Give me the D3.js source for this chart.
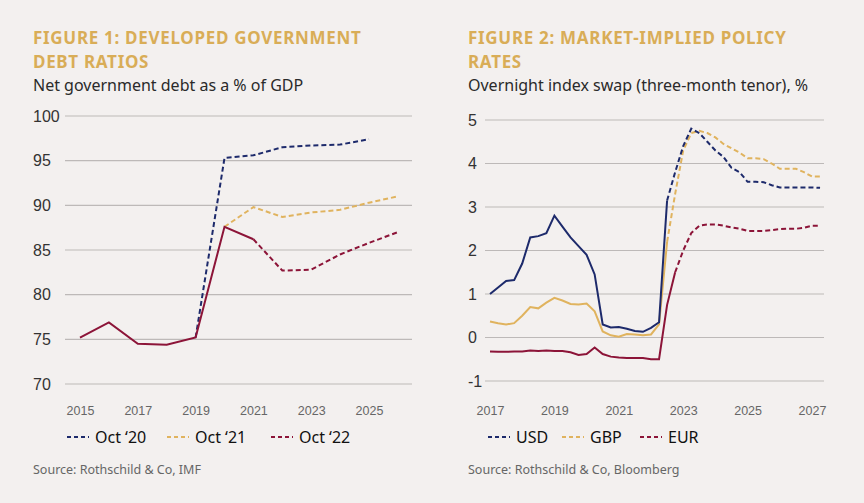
<!DOCTYPE html>
<html><head><meta charset="utf-8">
<script src="https://cdn.jsdelivr.net/npm/d3@7"></script>
<style>
body{margin:0;background:#f3f0ef;}
svg{display:block;font-family:"Source Sans Pro","Noto Sans",sans-serif;}
.title{fill:#d9ad57;font-weight:bold;font-size:17px;letter-spacing:0.7px;}
.sub{fill:#2a2a2a;font-size:16px;}
.src{fill:#666;font-size:12.5px;}
.tick text{fill:#333;font-size:16px;}
.xa .tick text{fill:#666;font-size:12.5px;}
.leg{fill:#111;font-size:16px;}
</style></head>
<body>
<svg id="vis" width="864" height="503"></svg>
<script>
// figure 1 - debt ratios
const years1 = [2015,2016,2017,2018,2019,2020,2021,2022,2023,2024,2025,2026]
const oct22 = [75.2,76.9,74.5,74.4,75.2,87.6,86.2,82.7,82.8,84.5,85.8,87.0]
const oct21 = [null,null,null,null,null,87.6,89.8,88.7,89.2,89.5,90.3,91.0]
const oct20 = [null,null,null,null,75.2,95.3,95.6,96.5,96.7,96.8,97.4,null]
const ticks1x = [2015,2017,2019,2021,2023,2025]
const ticks1y = [70,75,80,85,90,95,100]

// figure 2 - OIS, quarterly from 2017
const usd = [1.0,1.15,1.3,1.32,1.7,2.3,2.33,2.4,2.8,2.55,2.3,2.1,1.9,1.45,0.3,0.23,0.24,0.2,0.15,0.13,0.22,0.35,3.15,
    3.8,4.4,4.8,4.7,4.5,4.3,4.15,3.9,3.8,3.58,3.58,3.57,3.5,3.45,3.45,3.45,3.45,3.45,3.44]
const gbp = [0.37,0.33,0.3,0.33,0.5,0.7,0.67,0.8,0.91,0.85,0.77,0.76,0.78,0.6,0.14,0.05,0.02,0.08,0.07,0.05,0.07,0.3,2.2,
    3.3,4.3,4.7,4.75,4.7,4.6,4.45,4.35,4.25,4.12,4.12,4.1,4.0,3.88,3.88,3.88,3.8,3.7,3.7]
const eur = [-0.32,-0.33,-0.33,-0.32,-0.32,-0.3,-0.31,-0.3,-0.31,-0.31,-0.34,-0.4,-0.38,-0.23,-0.38,-0.44,-0.46,-0.47,-0.47,-0.47,-0.5,-0.5,0.75,1.5,
    2.0,2.4,2.57,2.6,2.6,2.57,2.53,2.5,2.45,2.45,2.45,2.47,2.49,2.5,2.5,2.52,2.57,2.57]
const usdSolidEnd = 22, gbpSolidEnd = 22, eurSolidEnd = 23
const ticks2x = [2017,2019,2021,2023,2025,2027]
const ticks2y = [-1,0,1,2,3,4,5]

const NAVY = "#1d2a6b", GOLD = "#e0b35e", RED = "#8c1438"
let svg = d3.select("#vis")

function titles(x, l1, l2, sub, src) {
    svg.append("text").attr("class","title").attr("x",x).attr("y",44).text(l1)
    svg.append("text").attr("class","title").attr("x",x).attr("y",68).text(l2)
    svg.append("text").attr("class","sub").attr("x",x).attr("y",91).text(sub)
    svg.append("text").attr("class","src").attr("x",x).attr("y",474).text(src)
}
titles(33,"FIGURE 1: DEVELOPED GOVERNMENT","DEBT RATIOS","Net government debt as a % of GDP","Source: Rothschild & Co, IMF")
titles(468,"FIGURE 2: MARKET-IMPLIED POLICY","RATES","Overnight index swap (three-month tenor), %","Source: Rothschild & Co, Bloomberg")

function frame(xs, ys, gridX0, gridX1, ticksX, ticksY, labelX) {
    let g = svg.append("g")
    ticksY.forEach(function(t){
        g.append("line").attr("x1",gridX0).attr("x2",gridX1).attr("y1",ys(t)).attr("y2",ys(t))
            .attr("stroke","#bdb9b8").attr("stroke-width",1.2)
    })
    let ya = svg.append("g").attr("transform","translate(" + labelX + ",0)")
        .call(d3.axisLeft(ys).tickValues(ticksY).tickSize(0).tickPadding(0).tickFormat(function(d){ return String(d) }))
    ya.select(".domain").remove()
    ya.selectAll("text").attr("text-anchor","start").attr("x",0)
    let xa = svg.append("g").attr("class","xa").attr("transform","translate(0,406)")
        .call(d3.axisBottom(xs).tickValues(ticksX).tickSize(0).tickPadding(0).tickFormat(d3.format("d")))
    xa.select(".domain").remove()
}

function path(xs, ys, xv, yv, from, to, color, dashed) {
    let pts = []
    for (let i = from; i <= to; i++) if (yv[i] != null) pts.push([xs(xv[i]), ys(yv[i])])
    svg.append("path").attr("d", d3.line()(pts)).attr("fill","none").attr("stroke",color)
        .attr("stroke-width",2).attr("stroke-dasharray", dashed ? "5,3" : null)
}

// left chart
let x1 = d3.scaleLinear().domain([2015,2025]).range([80,369])
let y1 = d3.scaleLinear().domain([70,100]).range([384,116])
frame(x1, y1, 65, 412, ticks1x, ticks1y, 33)
path(x1,y1,years1,oct20,4,11,NAVY,true)
path(x1,y1,years1,oct21,5,11,GOLD,true)
path(x1,y1,years1,oct22,0,6,RED,false)
path(x1,y1,years1,oct22,6,11,RED,true)

// right chart
let qx = usd.map(function(d,i){ return 2017 + i*0.25 })
let x2 = d3.scaleLinear().domain([2017,2027]).range([490,812])
let y2 = d3.scaleLinear().domain([-1,5]).range([381,120])
frame(x2, y2, 485, 824, ticks2x, ticks2y, 468)
path(x2,y2,qx,gbp,0,gbpSolidEnd,GOLD,false)
path(x2,y2,qx,gbp,gbpSolidEnd,qx.length-1,GOLD,true)
path(x2,y2,qx,eur,0,eurSolidEnd,RED,false)
path(x2,y2,qx,eur,eurSolidEnd,qx.length-1,RED,true)
path(x2,y2,qx,usd,0,usdSolidEnd,NAVY,false)
path(x2,y2,qx,usd,usdSolidEnd,qx.length-1,NAVY,true)

function legend(x0, items) {
    items.forEach(function(it){
        svg.append("line").attr("x1",x0).attr("x2",x0+22).attr("y1",437).attr("y2",437)
            .attr("stroke",it[1]).attr("stroke-width",2).attr("stroke-dasharray","4,3")
        svg.append("text").attr("class","leg").attr("x",x0+28).attr("y",443).text(it[0])
        x0 += it[2]
    })
}
legend(67, [["Oct \u201820",NAVY,100],["Oct \u201821",GOLD,104],["Oct \u201822",RED,0]])
legend(488, [["USD",NAVY,74],["GBP",GOLD,78],["EUR",RED,0]])
</script>
</body></html>
